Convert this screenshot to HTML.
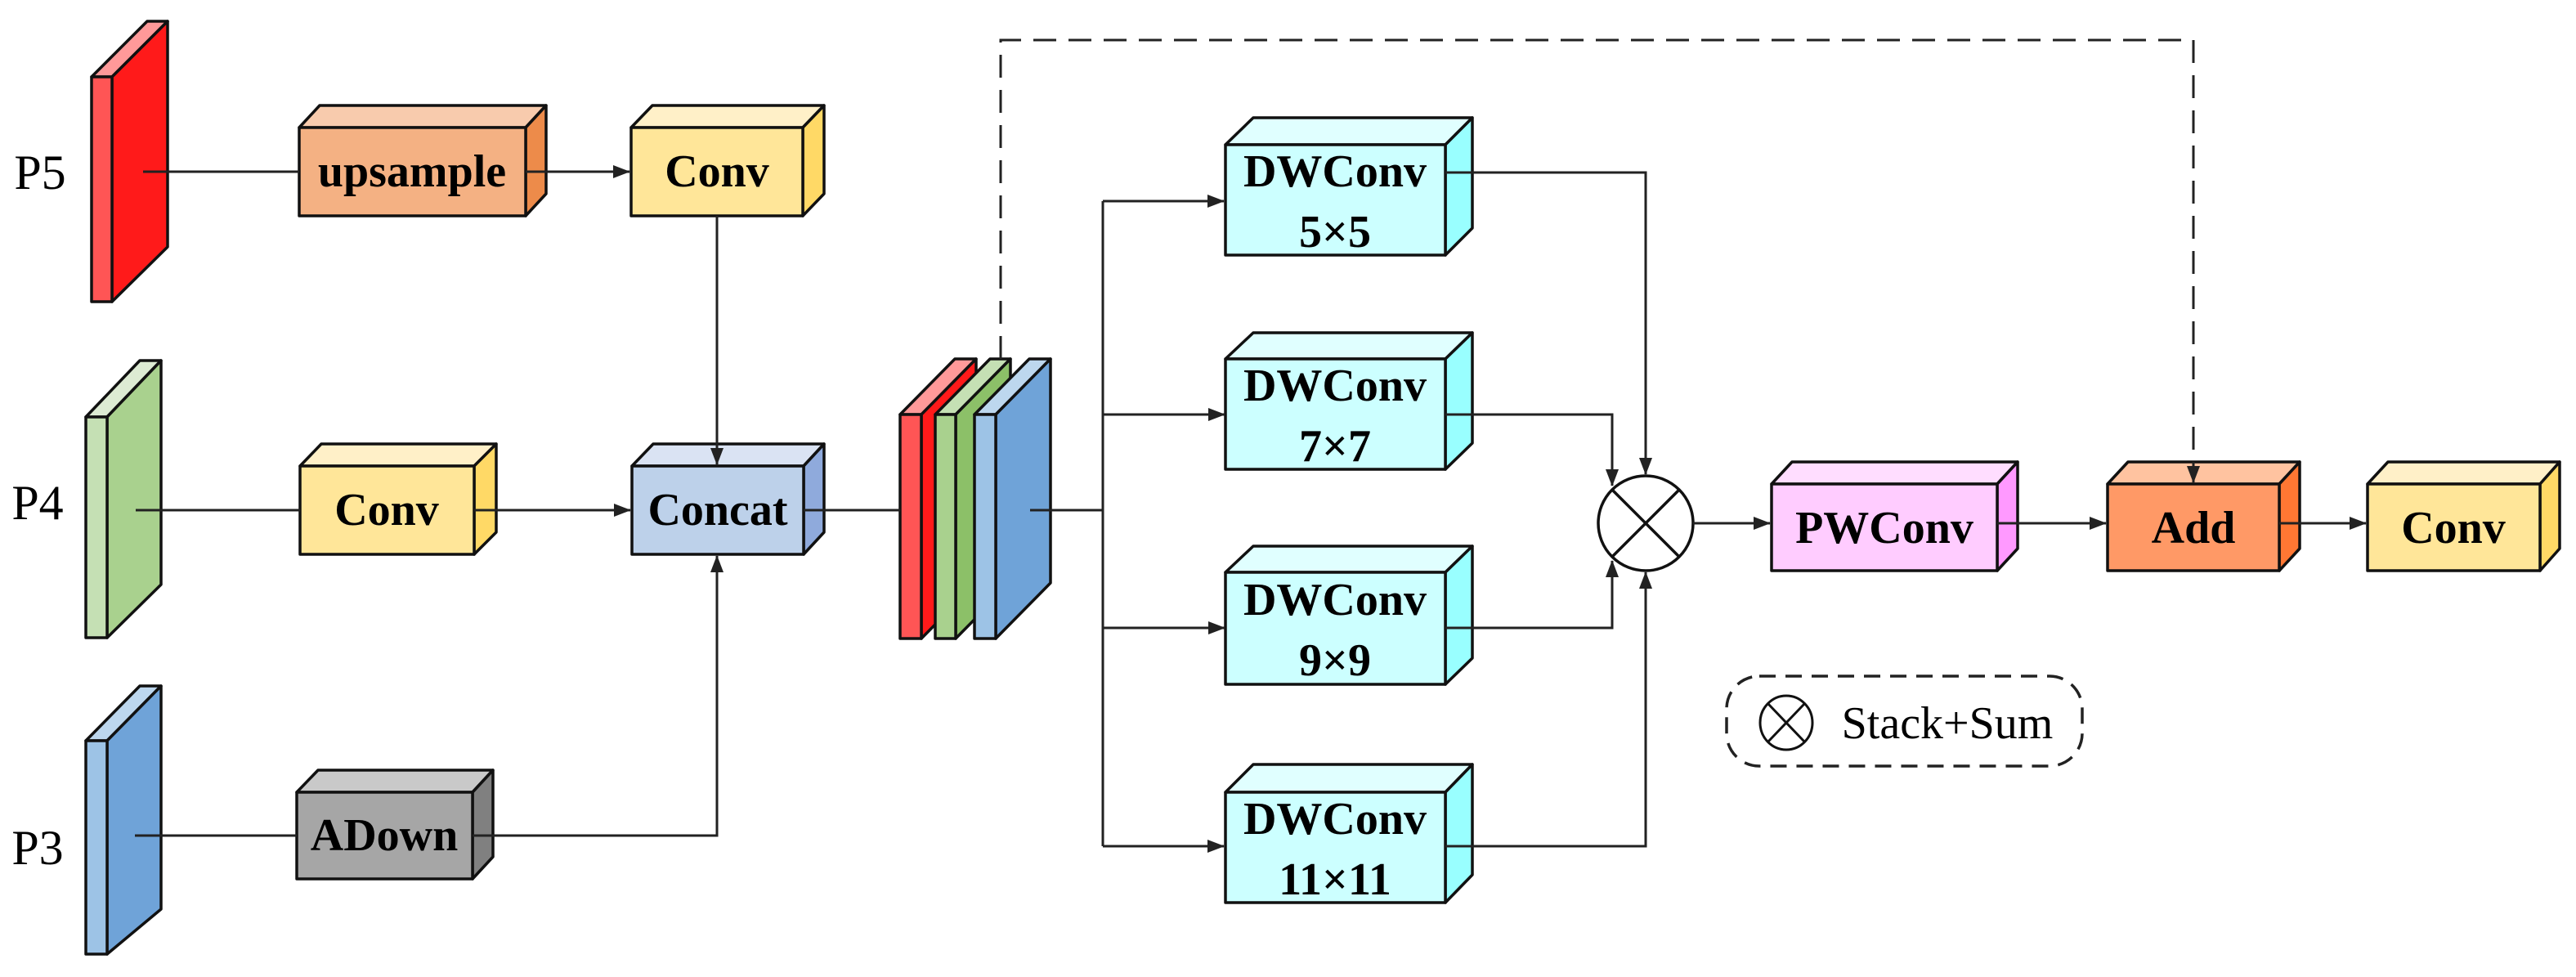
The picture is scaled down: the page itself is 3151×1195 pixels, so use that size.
<!DOCTYPE html>
<html><head><meta charset="utf-8"><style>
html,body{margin:0;padding:0;background:#fff;}
svg{display:block;}
text{font-family:"Liberation Serif",serif;}
.b{font-weight:bold;font-size:56px;text-anchor:middle;}
.e{stroke:#111;stroke-width:3.5;stroke-linejoin:round;}
.l{stroke:#222;stroke-width:3;fill:none;}
</style></head><body>
<svg width="3151" height="1195" viewBox="0 0 3151 1195" xmlns="http://www.w3.org/2000/svg">
<defs>
<marker id="a" markerWidth="22" markerHeight="18" refX="20" refY="9" orient="auto" markerUnits="userSpaceOnUse">
<path d="M0,1 L21,9 L0,17 Z" fill="#222"/></marker>
</defs>

<!-- slabs P5 P4 P3 -->
<g class="e">
<polygon points="112,94 137,94 205,26 180,26" fill="#FF9999"/>
<polygon points="137,94 205,26 205,302 137,369" fill="#FF1A1A"/>
<rect x="112" y="94" width="25" height="275" fill="#FF5555"/>

<polygon points="105,510 131,510 197,441 171,441" fill="#DDEBD3"/>
<polygon points="131,510 197,441 197,715 131,780" fill="#A9D18E"/>
<rect x="105" y="510" width="26" height="270" fill="#C5E0B4"/>

<polygon points="105,906 131,906 197,839 171,839" fill="#BDD7EE"/>
<polygon points="131,906 197,839 197,1112 131,1167" fill="#6FA3D8"/>
<rect x="105" y="906" width="26" height="261" fill="#9DC3E6"/>
</g>
<text x="49" y="231" font-size="60" text-anchor="middle">P5</text>
<text x="46" y="635" font-size="60" text-anchor="middle">P4</text>
<text x="46" y="1057" font-size="60" text-anchor="middle">P3</text>

<!-- boxes -->
<g class="e">
<polygon points="366,156 391,129 668,129 643,156" fill="#F8CBAD"/>
<polygon points="643,156 668,129 668,237 643,264" fill="#ED8B4A"/>
<rect x="366" y="156" width="277" height="108" fill="#F4B183"/>
<polygon points="772,156 798,129 1008,129 982,156" fill="#FFF0C8"/>
<polygon points="982,156 1008,129 1008,237 982,264" fill="#FFD966"/>
<rect x="772" y="156" width="210" height="108" fill="#FFE699"/>
<polygon points="367,570 393,543 607,543 580,570" fill="#FFF0C8"/>
<polygon points="580,570 607,543 607,651 580,678" fill="#FFD966"/>
<rect x="367" y="570" width="213" height="108" fill="#FFE699"/>
<polygon points="773,570 799,543 1008,543 983,570" fill="#DAE3F3"/>
<polygon points="983,570 1008,543 1008,651 983,678" fill="#8FAADC"/>
<rect x="773" y="570" width="210" height="108" fill="#BDD1EA"/>
<polygon points="363,969 389,942 603,942 578,969" fill="#C9C9C9"/>
<polygon points="578,969 603,942 603,1048 578,1075" fill="#808080"/>
<rect x="363" y="969" width="215" height="106" fill="#A6A6A6"/>
</g>
<text class="b" x="504" y="228" font-size="54">upsample</text>
<text class="b" x="877" y="228">Conv</text>
<text class="b" x="473" y="642">Conv</text>
<text class="b" x="878" y="642">Concat</text>
<text class="b" x="470" y="1040">ADown</text>

<!-- stack -->
<g class="e">
<polygon points="1101,507 1127,507 1194,439 1168,439" fill="#FF9999"/>
<polygon points="1127,507 1194,439 1194,713 1127,781" fill="#FF1A1A"/>
<rect x="1101" y="507" width="26" height="274" fill="#FF5555"/>
<polygon points="1144,507 1169,507 1236,439 1211,439" fill="#C5E0B4"/>
<polygon points="1169,507 1236,439 1236,713 1169,781" fill="#8CC068"/>
<rect x="1144" y="507" width="25" height="274" fill="#A9D18E"/>
<polygon points="1192,507 1218,507 1285,439 1259,439" fill="#BDD7EE"/>
<polygon points="1218,507 1285,439 1285,713 1218,781" fill="#6FA3D8"/>
<rect x="1192" y="507" width="26" height="274" fill="#9DC3E6"/>
</g>

<!-- DWConv boxes -->
<g class="e">
<polygon points="1499,177 1533,144 1801,144 1768,177" fill="#E0FFFF"/>
<polygon points="1768,177 1801,144 1801,279 1768,312" fill="#99FFFF"/>
<rect x="1499" y="177" width="269" height="135" fill="#CCFFFF"/>
<polygon points="1499,439 1533,407 1801,407 1768,439" fill="#E0FFFF"/>
<polygon points="1768,439 1801,407 1801,542 1768,574" fill="#99FFFF"/>
<rect x="1499" y="439" width="269" height="135" fill="#CCFFFF"/>
<polygon points="1499,700 1533,668 1801,668 1768,700" fill="#E0FFFF"/>
<polygon points="1768,700 1801,668 1801,805 1768,837" fill="#99FFFF"/>
<rect x="1499" y="700" width="269" height="137" fill="#CCFFFF"/>
<polygon points="1499,969 1533,935 1801,935 1768,969" fill="#E0FFFF"/>
<polygon points="1768,969 1801,935 1801,1070 1768,1104" fill="#99FFFF"/>
<rect x="1499" y="969" width="269" height="135" fill="#CCFFFF"/>
</g>
<g class="b">
<text x="1633" y="228">DWConv</text><text x="1633" y="302">5×5</text>
<text x="1633" y="490">DWConv</text><text x="1633" y="564">7×7</text>
<text x="1633" y="752">DWConv</text><text x="1633" y="826">9×9</text>
<text x="1633" y="1020">DWConv</text><text x="1633" y="1094">11×11</text>
</g>

<!-- sum circle -->
<circle cx="2013" cy="640" r="58" fill="#fff" stroke="#111" stroke-width="3.5"/>
<line x1="1972" y1="599" x2="2054" y2="681" stroke="#111" stroke-width="3.5"/>
<line x1="1972" y1="681" x2="2054" y2="599" stroke="#111" stroke-width="3.5"/>

<!-- right boxes -->
<g class="e">
<polygon points="2167,592 2192,565 2468,565 2443,592" fill="#FFDDFF"/>
<polygon points="2443,592 2468,565 2468,671 2443,698" fill="#FF99FF"/>
<rect x="2167" y="592" width="276" height="106" fill="#FFCCFF"/>
<polygon points="2578,592 2603,565 2813,565 2788,592" fill="#FFC3A0"/>
<polygon points="2788,592 2813,565 2813,671 2788,698" fill="#FF7733"/>
<rect x="2578" y="592" width="210" height="106" fill="#FF9966"/>
<polygon points="2896,592 2921,565 3131,565 3107,592" fill="#FFF0C8"/>
<polygon points="3107,592 3131,565 3131,671 3107,698" fill="#FFD966"/>
<rect x="2896" y="592" width="211" height="106" fill="#FFE699"/>
</g>
<text class="b" x="2305" y="664">PWConv</text>
<text class="b" x="2683" y="664">Add</text>
<text class="b" x="3001" y="664">Conv</text>

<!-- connectors (drawn on top) -->
<g class="l">
<line x1="175" y1="210" x2="366" y2="210"/>
<line x1="643" y1="210" x2="770" y2="210" marker-end="url(#a)"/>
<line x1="877" y1="264" x2="877" y2="568" marker-end="url(#a)"/>
<line x1="166" y1="624" x2="367" y2="624"/>
<line x1="580" y1="624" x2="771" y2="624" marker-end="url(#a)"/>
<line x1="165" y1="1022" x2="363" y2="1022"/>
<polyline points="578,1022 877,1022 877,680" marker-end="url(#a)"/>
<line x1="983" y1="624" x2="1101" y2="624"/>
<line x1="1260" y1="624" x2="1349" y2="624"/>
<line x1="1349" y1="246" x2="1349" y2="1035"/>
<line x1="1349" y1="246" x2="1497" y2="246" marker-end="url(#a)"/>
<line x1="1349" y1="507" x2="1498" y2="507" marker-end="url(#a)"/>
<line x1="1349" y1="768" x2="1498" y2="768" marker-end="url(#a)"/>
<line x1="1349" y1="1035" x2="1497" y2="1035" marker-end="url(#a)"/>
<polyline points="1768,211 2013,211 2013,580" marker-end="url(#a)"/>
<polyline points="1768,507 1972,507 1972,594" marker-end="url(#a)"/>
<polyline points="1768,768 1972,768 1972,686" marker-end="url(#a)"/>
<polyline points="1768,1035 2013,1035 2013,700" marker-end="url(#a)"/>
<line x1="2071" y1="640" x2="2165" y2="640" marker-end="url(#a)"/>
<line x1="2443" y1="640" x2="2576" y2="640" marker-end="url(#a)"/>
<line x1="2788" y1="640" x2="2894" y2="640" marker-end="url(#a)"/>
</g>
<polyline points="1224,439 1224,49 2683,49 2683,590" fill="none" stroke="#222" stroke-width="3" stroke-dasharray="28,15" marker-end="url(#a)"/>

<!-- legend -->
<rect x="2112" y="827" width="435" height="110" rx="40" ry="40" fill="none" stroke="#222" stroke-width="3.5" stroke-dasharray="20,12"/>
<ellipse cx="2185" cy="884" rx="32" ry="33" fill="none" stroke="#111" stroke-width="3"/>
<line x1="2163" y1="861" x2="2207" y2="907" stroke="#111" stroke-width="3"/>
<line x1="2163" y1="907" x2="2207" y2="861" stroke="#111" stroke-width="3"/>
<text x="2382" y="903" font-size="56" text-anchor="middle">Stack+Sum</text>
</svg>
</body></html>
